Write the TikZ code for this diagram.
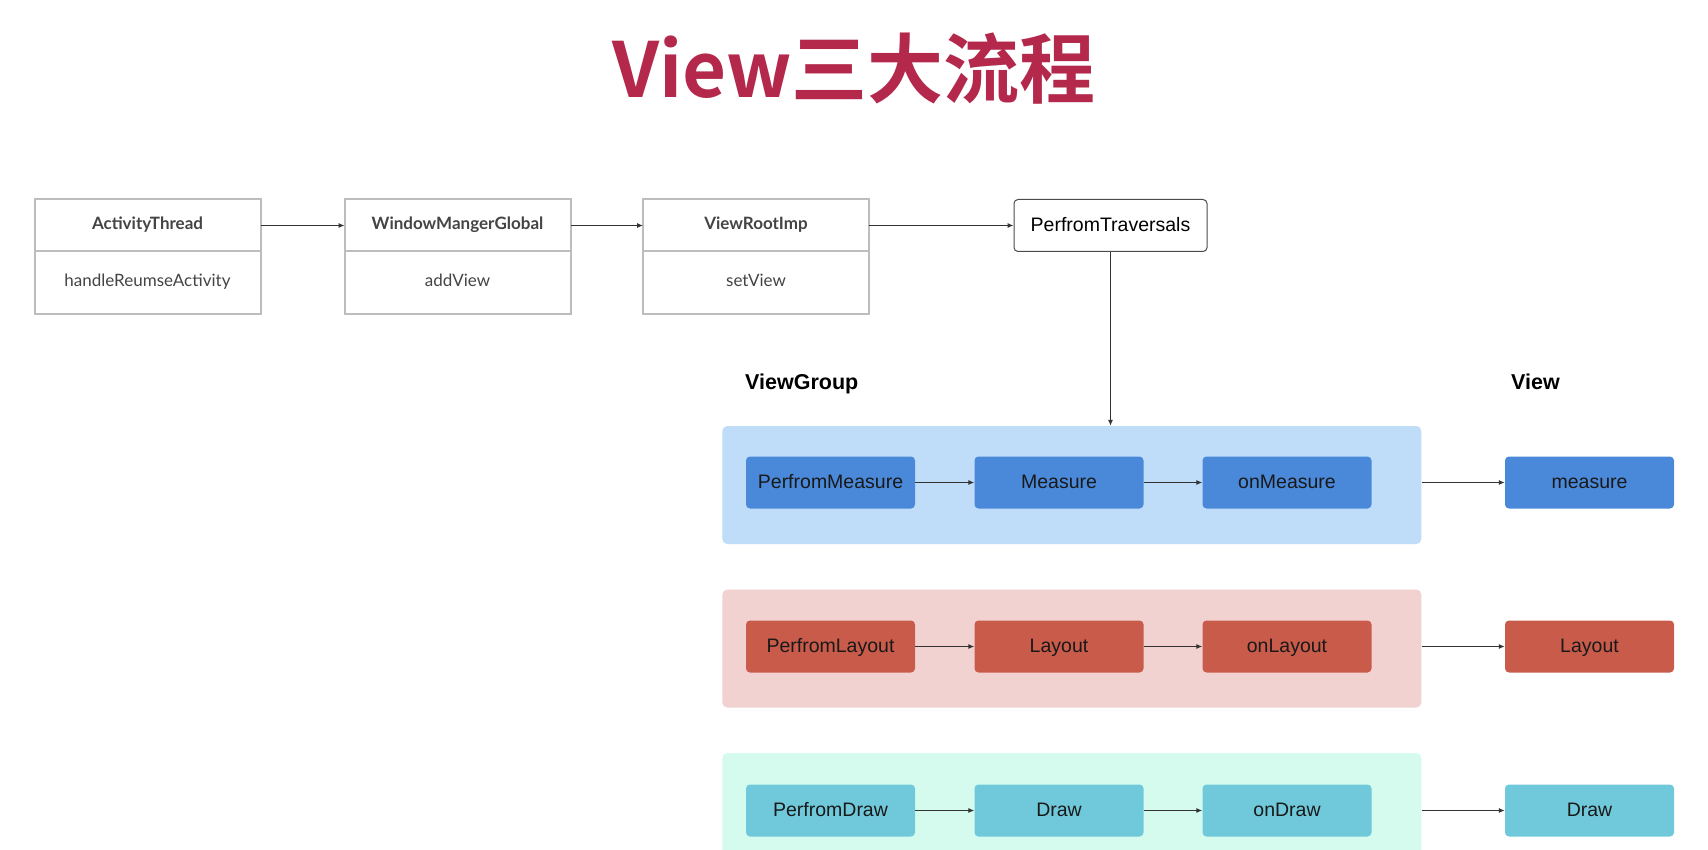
\documentclass[tikz,border=0pt]{standalone}
\usepackage{fontspec}
\setmainfont{Liberation Sans}
\newfontfamily\titlefont{Noto Sans CJK SC Bold}
\newfontfamily\latofont{Lato}
\newfontfamily\latobold{Lato Bold}
\usetikzlibrary{arrows.meta}
\definecolor{titlered}{HTML}{B3284B}
\definecolor{boxgray}{HTML}{BDBDBD}
\definecolor{txtgray}{HTML}{444444}
\definecolor{bpanel}{HTML}{BFDDF9}
\definecolor{bbox}{HTML}{4A89D9}
\definecolor{rpanel}{HTML}{F2D2D1}
\definecolor{rbox}{HTML}{C95B4A}
\definecolor{gpanel}{HTML}{D4FBEE}
\definecolor{gbox}{HTML}{70C9DA}
\tikzset{
  tophead/.style={draw=boxgray, line width=2pt, outer sep=0pt, fill=white, minimum width=226pt, minimum height=53pt, inner sep=0pt, text=txtgray, text height=12pt, text depth=3pt, font=\latobold\fontsize{17}{18}\selectfont},
  topbody/.style={draw=boxgray, line width=2pt, outer sep=0pt, fill=white, minimum width=226pt, minimum height=63pt, inner sep=0pt, text=txtgray, text height=12pt, text depth=3pt, font=\latofont\fontsize{17}{18}\selectfont},
  travbox/.style={draw=black!70, line width=1pt, rounded corners=4pt, fill=white, minimum width=193pt, minimum height=52pt, inner sep=0pt, text height=13pt, text depth=1pt, font=\fontsize{19.5}{22}\selectfont},
  panel/.style={rounded corners=5pt, minimum width=699pt, minimum height=118pt, inner sep=0pt},
  stepbox/.style={rounded corners=4pt, minimum width=169pt, minimum height=52pt, inner sep=0pt, text=black!90, text height=13pt, text depth=1pt, font=\fontsize{19.5}{22}\selectfont},
  conn/.style={draw=black!80, line width=1pt, -{Latex[length=6pt,width=5pt]}},
  grouplabel/.style={font=\bfseries\fontsize{21.5}{24}\selectfont, anchor=west, inner sep=0pt, text height=16pt, text depth=5pt}
}
\begin{document}
\begin{tikzpicture}[x=1pt,y=-1pt]
\useasboundingbox (0,0) rectangle (1708,850);
\fill[white] (0,0) rectangle (1708,850);
% title
\node[font=\titlefont\fontsize{76}{80}\selectfont, text=titlered, inner sep=0pt] (title) at (854,69) {View三大流程};
% top boxes
\node[tophead] (at1) at (147.5,225.5) {ActivityThread};
\node[topbody, anchor=north] (at2) at ([yshift=1pt]at1.south) {handleReumseActivity};
\node[tophead] (wm1) at (457.5,225.5) {WindowMangerGlobal};
\node[topbody, anchor=north] (wm2) at ([yshift=1pt]wm1.south) {addView};
\node[tophead] (vr1) at (756,225.5) {ViewRootImp};
\node[topbody, anchor=north] (vr2) at ([yshift=1pt]vr1.south) {setView};
\node[travbox] (pt) at (1110.5,225.5) {PerfromTraversals};
\draw[conn] (at1) -- (wm1);
\draw[conn] (wm1) -- (vr1);
\draw[conn] (vr1) -- (pt);
% labels
\node[grouplabel] (vg) at (745,384) {ViewGroup};
\node[grouplabel] (vw) at (1511,384) {View};
% panels
\node[panel, fill=bpanel] (bp) at (1071.8,485) {};
\node[panel, fill=rpanel] (rp) at (1071.8,648.5) {};
\node[panel, fill=gpanel] (gp) at (1071.8,812) {};
\draw[conn] (pt.south) -- (pt.south |- bp.north);
% measure row
\node[stepbox, fill=bbox] (m1) at (830.5,482.5) {PerfromMeasure};
\node[stepbox, fill=bbox] (m2) at (1059,482.5) {Measure};
\node[stepbox, fill=bbox] (m3) at (1287,482.5) {onMeasure};
\node[stepbox, fill=bbox] (m4) at (1589.5,482.5) {measure};
\draw[conn] (m1) -- (m2);
\draw[conn] (m2) -- (m3);
\draw[conn] (m3.east -| bp.east) -- (m4);
% layout row
\node[stepbox, fill=rbox] (l1) at (830.5,646.5) {PerfromLayout};
\node[stepbox, fill=rbox] (l2) at (1059,646.5) {Layout};
\node[stepbox, fill=rbox] (l3) at (1287,646.5) {onLayout};
\node[stepbox, fill=rbox] (l4) at (1589.5,646.5) {Layout};
\draw[conn] (l1) -- (l2);
\draw[conn] (l2) -- (l3);
\draw[conn] (l3.east -| rp.east) -- (l4);
% draw row
\node[stepbox, fill=gbox] (d1) at (830.5,810.5) {PerfromDraw};
\node[stepbox, fill=gbox] (d2) at (1059,810.5) {Draw};
\node[stepbox, fill=gbox] (d3) at (1287,810.5) {onDraw};
\node[stepbox, fill=gbox] (d4) at (1589.5,810.5) {Draw};
\draw[conn] (d1) -- (d2);
\draw[conn] (d2) -- (d3);
\draw[conn] (d3.east -| gp.east) -- (d4);
\end{tikzpicture}
\end{document}
